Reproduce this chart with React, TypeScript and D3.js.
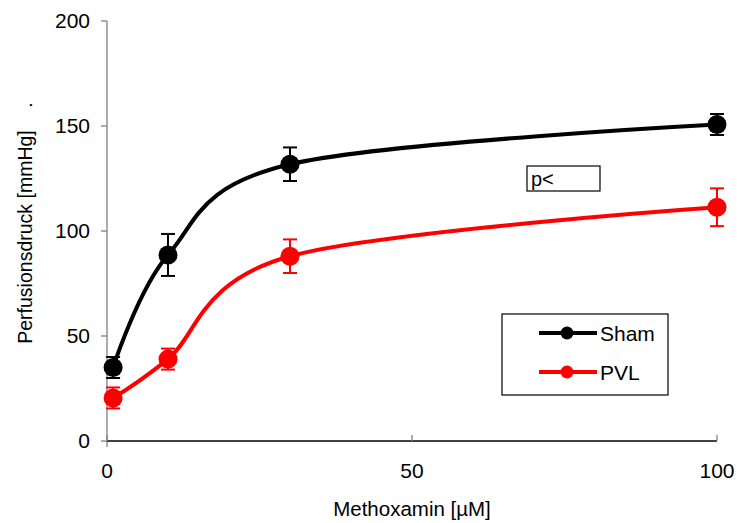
import * as d3 from 'd3';

const doses = [1, 10, 30, 100];
const shamMean = [35, 88.6, 131.8, 150.7];
const shamErr = [5, 10, 8, 5];
const pvlMean = [20.5, 39, 88, 111.3];
const pvlErr = [5, 5, 8, 9];
const xTicks = [0, 50, 100];
const yTicks = [0, 50, 100, 150, 200];

const series = [
  { name: 'Sham', color: '#000000', mean: shamMean, err: shamErr },
  { name: 'PVL', color: '#ff0000', mean: pvlMean, err: pvlErr },
];

export default function App() {
  const width = 737;
  const height = 523;
  const x = d3.scaleLinear().domain([0, 100]).range([107, 717]);
  const y = d3.scaleLinear().domain([0, 200]).range([441, 21]);
  const line = d3
    .line<number>()
    .x((_, i) => x(doses[i]))
    .y(d => y(d))
    .curve(d3.curveCardinal.tension(0));
  const font = 'Liberation Sans, Arial, sans-serif';

  return (
    <svg
      width={width}
      height={height}
      style={{ position: 'absolute', left: 0, top: 0, background: '#fff' }}
      fontFamily={font}
    >
      {/* y axis */}
      <line x1={x(0)} x2={x(0)} y1={y(200)} y2={y(0) + 6} stroke="#808080" strokeWidth={1.3} />
      {yTicks.map(t => (
        <g key={t}>
          <line x1={x(0) - 6} x2={x(0)} y1={y(t)} y2={y(t)} stroke="#808080" strokeWidth={1.3} />
          <text x={x(0) - 17} y={y(t) + 7} textAnchor="end" fontSize={21}>
            {t}
          </text>
        </g>
      ))}
      {/* x axis */}
      <line x1={x(0)} x2={x(100)} y1={y(0)} y2={y(0)} stroke="#000" strokeWidth={1.3} />
      {xTicks.map(t => (
        <g key={t}>
          <line x1={x(t)} x2={x(t)} y1={y(0) - 6} y2={y(0)} stroke="#808080" strokeWidth={1.3} />
          <text x={x(t)} y={y(0) + 37} textAnchor="middle" fontSize={21}>
            {t}
          </text>
        </g>
      ))}
      <text x={412} y={516} textAnchor="middle" fontSize={20.5}>
        Methoxamin [µM]
      </text>
      <text transform="translate(32,237) rotate(-90)" textAnchor="middle" fontSize={19.5}>
        Perfusionsdruck [mmHg]
      </text>
      <text transform="translate(32,105) rotate(-90)" textAnchor="middle" fontSize={19.5}>
        .
      </text>

      {series.map(s => (
        <g key={s.name}>
          <path d={line(s.mean) || ''} fill="none" stroke={s.color} strokeWidth={4} />
          {s.mean.map((m, i) => (
            <g key={i} stroke={s.color} strokeWidth={2}>
              <line x1={x(doses[i])} x2={x(doses[i])} y1={y(m - s.err[i])} y2={y(m + s.err[i])} />
              <line x1={x(doses[i]) - 7} x2={x(doses[i]) + 7} y1={y(m - s.err[i])} y2={y(m - s.err[i])} />
              <line x1={x(doses[i]) - 7} x2={x(doses[i]) + 7} y1={y(m + s.err[i])} y2={y(m + s.err[i])} />
            </g>
          ))}
          {s.mean.map((m, i) => (
            <circle key={i} cx={x(doses[i])} cy={y(m)} r={9.5} fill={s.color} />
          ))}
        </g>
      ))}

      {/* p< box */}
      <rect x={527} y={166} width={73} height={25} fill="#fff" stroke="#000" strokeWidth={1.2} />
      <text x={531} y={186} fontSize={20}>
        p&lt;
      </text>

      {/* legend */}
      <rect x={502} y={314} width={166} height={81} fill="#fff" stroke="#000" strokeWidth={1.2} />
      {series.map((s, i) => {
        const ly = 333 + i * 39;
        return (
          <g key={s.name}>
            <line x1={539} x2={597} y1={ly} y2={ly} stroke={s.color} strokeWidth={4} />
            <circle cx={567} cy={ly} r={6.5} fill={s.color} />
            <text x={600} y={ly + 8} fontSize={21}>
              {s.name}
            </text>
          </g>
        );
      })}
    </svg>
  );
}
